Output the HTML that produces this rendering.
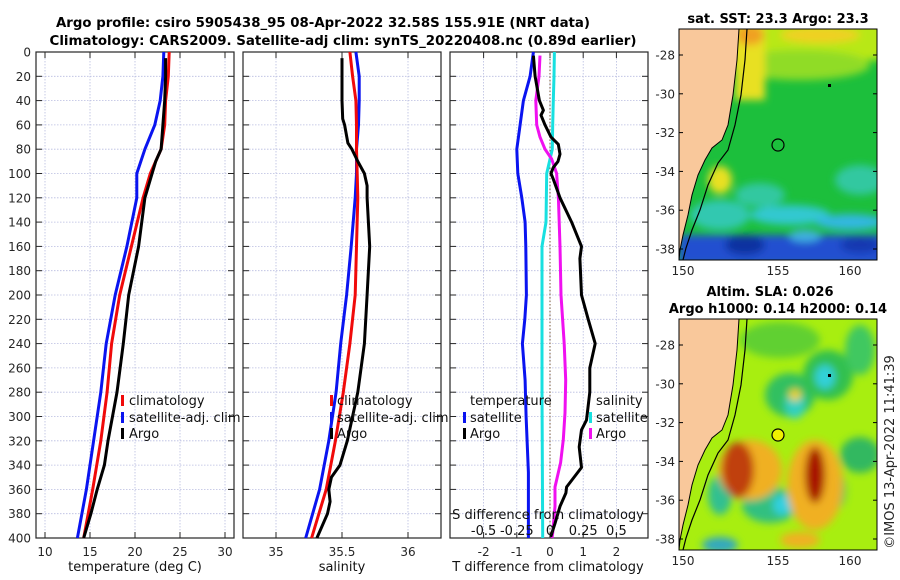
<!DOCTYPE html>
<html><head><meta charset="utf-8">
<style>
html,body{margin:0;padding:0;background:#fff;}
svg{display:block;font-family:"DejaVu Sans","Liberation Sans",sans-serif;}
</style></head>
<body>
<svg id="chart" width="900" height="580" viewBox="0 0 900 580" xmlns="http://www.w3.org/2000/svg">
<defs>
  <clipPath id="clipM1"><rect x="679" y="29" width="198" height="231"/></clipPath>
  <clipPath id="clipM2"><rect x="679" y="319" width="198" height="231"/></clipPath>
  <filter id="blur1" x="-20%" y="-20%" width="140%" height="140%"><feGaussianBlur stdDeviation="4"/></filter>
  <filter id="blur2" x="-20%" y="-20%" width="140%" height="140%"><feGaussianBlur stdDeviation="4"/></filter>
</defs>
<text x="323" y="27" text-anchor="middle" font-weight="bold" font-size="13" textLength="534" lengthAdjust="spacingAndGlyphs">Argo profile: csiro 5905438_95 08-Apr-2022 32.58S 155.91E (NRT data)</text>
<text x="343" y="45" text-anchor="middle" font-weight="bold" font-size="13" textLength="587" lengthAdjust="spacingAndGlyphs">Climatology: CARS2009. Satellite-adj clim: synTS_20220408.nc (0.89d earlier)</text>
<g id="panels"></g>

<!-- Map 1: SST -->
<g>
  <text x="778" y="23" text-anchor="middle" font-weight="bold" font-size="13">sat. SST: 23.3 Argo: 23.3</text>
  <g clip-path="url(#clipM1)">
    <rect x="679" y="29" width="198" height="231" fill="#1cbf3c"/>
    <g filter="url(#blur1)">
      <rect x="679" y="20" width="210" height="40" fill="#b8e818"/>
      <ellipse cx="800" cy="65" rx="70" ry="15" fill="#90dc28"/>
      <rect x="735" y="20" width="30" height="80" fill="#e8e020"/>
      <ellipse cx="750" cy="35" rx="14" ry="10" fill="#f0a020"/>
      <ellipse cx="820" cy="35" rx="40" ry="8" fill="#f0d020"/>
      <ellipse cx="720" cy="180" rx="12" ry="14" fill="#e8e020"/>
      <ellipse cx="860" cy="180" rx="25" ry="15" fill="#30c8a0"/>
      <ellipse cx="760" cy="195" rx="25" ry="12" fill="#30c8a0"/>
      <ellipse cx="720" cy="215" rx="30" ry="15" fill="#30c8b0"/>
      <ellipse cx="790" cy="215" rx="40" ry="10" fill="#30c8d0"/>
      <ellipse cx="850" cy="222" rx="35" ry="8" fill="#30b8e0"/>
      <rect x="679" y="235" width="210" height="30" fill="#2050d0"/>
      <ellipse cx="745" cy="245" rx="20" ry="10" fill="#1030a0"/>
      <ellipse cx="860" cy="245" rx="20" ry="8" fill="#1838b0"/>
      <ellipse cx="805" cy="236" rx="16" ry="6" fill="#40b0e0"/>
    </g>
    <path d="M679,29 L739,29 L737,60 L733,95 L728,125 L722,140 L712,148 L705,160 L698,175 L692,195 L688,215 L683,235 L680,250 L679,260 Z" fill="#f9c89b" stroke="#000" stroke-width="1"/>
    <path d="M747,29 L745,60 L741,95 L735,125 L728,150 L718,163 L708,185 L700,210 L692,230 L686,248 L683,260" fill="none" stroke="#000" stroke-width="1.2"/>
    <circle cx="778" cy="145" r="6" fill="none" stroke="#000" stroke-width="1.2"/>
    <rect x="828" y="84" width="3" height="3" fill="#000"/>
  </g>
  <rect x="679" y="29" width="198" height="231" fill="none" stroke="#000" stroke-width="1"/>
</g>

<!-- Map 2: SLA -->
<g>
  <text x="770" y="296" text-anchor="middle" font-weight="bold" font-size="13">Altim. SLA: 0.026</text>
  <text x="778" y="313" text-anchor="middle" font-weight="bold" font-size="13">Argo h1000: 0.14 h2000: 0.14</text>
  <g clip-path="url(#clipM2)">
    <rect x="679" y="319" width="198" height="231" fill="#a8ee10"/>
    <g filter="url(#blur2)">
      <ellipse cx="780" cy="340" rx="40" ry="18" fill="#60d030"/>
      <ellipse cx="790" cy="395" rx="25" ry="22" fill="#30c060"/>
      <ellipse cx="795" cy="405" rx="10" ry="14" fill="#30d0c0"/>
      <ellipse cx="828" cy="375" rx="25" ry="25" fill="#30c050"/>
      <ellipse cx="825" cy="377" rx="10" ry="12" fill="#30d0d8"/>
      <ellipse cx="860" cy="350" rx="15" ry="25" fill="#40c860"/>
      <ellipse cx="860" cy="455" rx="20" ry="18" fill="#30b860"/>
      <ellipse cx="838" cy="490" rx="8" ry="18" fill="#30c070"/>
      <ellipse cx="770" cy="505" rx="28" ry="18" fill="#30c080"/>
      <ellipse cx="783" cy="505" rx="10" ry="10" fill="#30d0e0"/>
      <ellipse cx="720" cy="495" rx="12" ry="20" fill="#30c090"/>
      <ellipse cx="750" cy="470" rx="32" ry="30" fill="#f0b020"/>
      <ellipse cx="738" cy="470" rx="16" ry="28" fill="#c04010"/>
      <ellipse cx="815" cy="485" rx="28" ry="45" fill="#f0b020"/>
      <ellipse cx="815" cy="475" rx="10" ry="28" fill="#a81800"/>
      <ellipse cx="795" cy="395" rx="6" ry="6" fill="#f0d020"/>
      <ellipse cx="800" cy="540" rx="20" ry="8" fill="#f0b020"/>
      <ellipse cx="720" cy="545" rx="18" ry="8" fill="#30a8c0"/>
    </g>
    <path d="M679,319 L739,319 L737,350 L733,385 L728,415 L722,430 L712,438 L705,450 L698,465 L692,485 L688,505 L683,525 L680,540 L679,550 Z" fill="#f9c89b" stroke="#000" stroke-width="1"/>
    <path d="M747,319 L745,350 L741,385 L735,415 L728,440 L718,453 L708,475 L700,500 L692,520 L686,538 L683,550" fill="none" stroke="#000" stroke-width="1.2"/>
    <circle cx="778" cy="435" r="6" fill="#f0f000" stroke="#000" stroke-width="1.2"/>
    <rect x="828" y="374" width="3" height="3" fill="#000"/>
  </g>
  <rect x="679" y="319" width="198" height="231" fill="none" stroke="#000" stroke-width="1"/>
</g>
<text transform="translate(894,452) rotate(-90)" text-anchor="middle" font-size="13" fill="#262626">©IMOS 13-Apr-2022 11:41:39</text>
<g id="maptick"></g>
</svg>
<script>
// ---- data ----
const depthTicks = [0,20,40,60,80,100,120,140,160,180,200,220,240,260,280,300,320,340,360,380,400];
const tempTicks = [10,15,20,25,30];
const salTicks = [35,35.5,36];
const salTickLabels = ["35","35.5","36"];
const tdiffTicks = [-2,-1,0,1,2];
const sdiffTicks = [-0.5,-0.25,0,0.25,0.5];
const sdiffTickLabels = ["-0.5","-0.25","0","0.25","0.5"];

const tClimDepth = [0,20,40,60,80,100,120,160,200,240,280,320,360,400];
const tClimVal   = [23.8,23.7,23.4,23.3,22.9,21.7,20.9,19.6,18.3,17.4,16.9,16.2,15.3,14.3];
const tSatDepth  = [0,20,40,60,80,100,120,160,200,240,280,320,360,400];
const tSatVal    = [23.2,23.1,22.8,22.2,21.1,20.2,20.2,19.1,17.8,16.8,16.2,15.4,14.6,13.6];
const tArgoDepth = [5,20,40,60,80,90,100,120,160,200,240,280,320,340,360,380,400];
const tArgoVal   = [23.4,23.4,23.3,23.1,22.9,22.3,21.9,21.1,20.4,19.3,18.7,18.0,17.0,16.6,15.8,15.1,14.3];

const sClimDepth = [0,20,40,60,80,100,120,160,200,240,280,320,360,400];
const sClimVal   = [35.56,35.58,35.605,35.61,35.61,35.615,35.62,35.61,35.60,35.56,35.51,35.45,35.38,35.27];
const sSatDepth  = [0,20,40,60,80,100,120,160,200,240,280,320,360,400];
const sSatVal    = [35.605,35.63,35.63,35.625,35.61,35.61,35.60,35.57,35.535,35.49,35.455,35.40,35.33,35.225];
const sArgoDepth = [5,20,40,55,60,75,80,90,100,110,120,160,200,240,280,320,340,350,360,370,380,400];
const sArgoVal   = [35.50,35.50,35.50,35.505,35.52,35.545,35.575,35.62,35.67,35.69,35.69,35.71,35.69,35.67,35.62,35.54,35.485,35.42,35.40,35.41,35.39,35.31];

const dtSatDepth = [0,20,40,60,80,100,120,140,160,200,220,240,270,300,346,400];
const dtSatVal   = [-0.5,-0.6,-0.8,-0.9,-1.0,-0.97,-0.85,-0.75,-0.73,-0.71,-0.76,-0.83,-0.75,-0.72,-0.65,-0.65];
const dtArgoDepth = [3,20,40,48,52,60,70,76,84,90,95,100,104,120,140,160,170,200,220,240,260,280,303,311,325,342,358,363,374,388,399];
const dtArgoVal   = [-0.5,-0.45,-0.32,-0.2,-0.27,-0.15,0.03,0.25,0.3,0.24,0.1,0.03,0.09,0.3,0.65,0.95,0.9,0.95,1.15,1.36,1.2,1.2,1.1,0.95,0.88,0.95,0.5,0.48,0.3,0.15,0.02];
const dsSatDepth = [0,20,40,60,80,100,140,160,200,280,400];
const dsSatVal   = [0.033,0.03,0.025,0.02,0.017,-0.025,-0.03,-0.06,-0.06,-0.06,-0.055];
const dsArgoDepth = [3,20,40,60,70,80,88,100,120,160,200,240,270,297,319,338,358,374,396,400];
const dsArgoVal   = [-0.075,-0.083,-0.107,-0.1,-0.075,-0.038,0.012,0.05,0.063,0.075,0.083,0.107,0.118,0.113,0.1,0.08,0.038,0.038,0.02,0.015];

// ---- layout ----
const NS = "http://www.w3.org/2000/svg";
const yTop = 52, yBot = 538;
const yScale = d => yTop + d/400*(yBot-yTop);
const panels = document.getElementById('panels');
function mk(tag, attrs, parent){ const e=document.createElementNS(NS,tag); for(const k in attrs) e.setAttribute(k,attrs[k]); (parent||panels).appendChild(e); return e; }

function drawAxes(x0, x1, xs, ticks, labels, name, showY){
  const g = mk('g',{});
  
  
  ticks.forEach(t=>{ mk('line',{x1:xs(t),x2:xs(t),y1:yTop,y2:yBot,stroke:'#b8bce0','stroke-width':0.8,'stroke-dasharray':'1.5,1.5'},g); });
  depthTicks.forEach(d=>{ const y=yScale(d);
    mk('line',{x1:x0,x2:x1,y1:y,y2:y,stroke:'#b8bce0','stroke-width':0.8,'stroke-dasharray':'1.5,1.5'},g);
    mk('line',{x1:x0,x2:x0+6,y1:y,y2:y,stroke:'#262626','stroke-width':1},g);
    mk('line',{x1:x1-6,x2:x1,y1:y,y2:y,stroke:'#262626','stroke-width':1},g);
    if(showY){ const t=mk('text',{x:31,y:y+4.5,'text-anchor':'end','font-size':12,fill:'#262626'},g); t.textContent=d;
        }
  });
  ticks.forEach((t,i)=>{ const x=xs(t);
    mk('line',{x1:x,x2:x,y1:yBot,y2:yBot-6,stroke:'#262626'},g);
    mk('line',{x1:x,x2:x,y1:yTop,y2:yTop+6,stroke:'#262626'},g);
    const tx=mk('text',{x:x,y:556,'text-anchor':'middle','font-size':12,fill:'#262626'},g); tx.textContent=labels[i];
     
  });
  mk('rect',{x:x0,y:yTop,width:x1-x0,height:yBot-yTop,fill:'none',stroke:'#262626','stroke-width':1.2},g);
  return g;
}
function line(xs, depths, vals, color, name, w){
  const pts = depths.map((d,i)=>xs(vals[i]).toFixed(1)+','+yScale(d).toFixed(1)).join(' ');
  const p = mk('polyline',{points:pts,fill:'none',stroke:color,'stroke-width':w||3,'stroke-linejoin':'round'});
  
  
}
function txt(x,y,s,name,anchor,size){ const t=mk('text',{x:x,y:y,'font-size':size||13,fill:'#111','text-anchor':anchor||'start'}); t.textContent=s;
    return t; }
function marker(x,y,color,name){ const r=mk('rect',{x:x,y:y-6,width:3,height:11,fill:color});
    }

// panel 1 temperature
const xT = v => 45 + (v-10)*9.0;
drawAxes(36,234,xT,tempTicks,tempTicks.map(String),'temperature',true);
line(xT,tSatDepth,tSatVal,'#0a14f0','temp-satellite-line');
line(xT,tClimDepth,tClimVal,'#f00a0a','temp-climatology-line');
line(xT,tArgoDepth,tArgoVal,'#000','temp-argo-line');
txt(135,571,'temperature (deg C)','x-axis-title-temperature','middle');
marker(121,401,'#f00a0a','legend-marker-climatology'); txt(129,405,'climatology','legend-climatology');
marker(121,418,'#0a14f0','legend-marker-satellite'); txt(129,422,'satellite-adj. clim','legend-satellite-adj');
marker(121,434,'#000','legend-marker-argo'); txt(129,438,'Argo','legend-argo');

// panel 2 salinity
const xS = v => 342 + (v-35.5)*132;
drawAxes(243,441,xS,salTicks,salTickLabels,'salinity',false);
line(xS,sSatDepth,sSatVal,'#0a14f0','sal-satellite-line');
line(xS,sClimDepth,sClimVal,'#f00a0a','sal-climatology-line');
line(xS,sArgoDepth,sArgoVal,'#000','sal-argo-line');
txt(342,571,'salinity','x-axis-title-salinity','middle');
marker(330,401,'#f00a0a','legend-marker-climatology-2'); txt(337,405,'climatology','legend-climatology-2');
marker(330,418,'#0a14f0','legend-marker-satellite-2'); txt(337,422,'satellite-adj. clim','legend-satellite-adj-2');
marker(330,434,'#000','legend-marker-argo-2'); txt(337,438,'Argo','legend-argo-2');

// panel 3 differences
const xDT = v => 550 + v*33.2;
const xDS = v => 550 + v*132.8;
drawAxes(450,648,xDT,tdiffTicks,tdiffTicks.map(String),'t-difference',false);
const z = mk('line',{x1:xDT(0),x2:xDT(0),y1:yTop,y2:yBot,stroke:'#7a5a3a','stroke-width':1,'stroke-dasharray':'1.5,2'});
 
line(xDT,dtSatDepth,dtSatVal,'#0a14f0','tdiff-satellite-line');
line(xDS,dsSatDepth,dsSatVal,'#18e0e0','sdiff-satellite-line');
line(xDS,dsArgoDepth,dsArgoVal,'#f010f0','sdiff-argo-line');
line(xDT,dtArgoDepth,dtArgoVal,'#000','tdiff-argo-line');
txt(548,571,'T difference from climatology','x-axis-title-t-difference','middle');
txt(548,519,'S difference from climatology','s-difference-title','middle');
sdiffTicks.forEach((v,i)=>{ txt(xDS(v),535,sdiffTickLabels[i],'s-difference-tick-label','middle'); });
txt(470,405,'temperature','legend-temperature-header');
marker(463,418,'#0a14f0','legend-marker-tdiff-satellite'); txt(470,422,'satellite','legend-tdiff-satellite');
marker(463,434,'#000','legend-marker-tdiff-argo'); txt(470,438,'Argo','legend-tdiff-argo');
txt(596,405,'salinity','legend-salinity-header');
marker(589,418,'#18e0e0','legend-marker-sdiff-satellite'); txt(596,422,'satellite','legend-sdiff-satellite');
marker(589,434,'#f010f0','legend-marker-sdiff-argo'); txt(596,438,'Argo','legend-sdiff-argo');

// map ticks
const mt = document.getElementById('maptick');
const latTicks = [-28,-30,-32,-34,-36,-38];
const lonTicks = [150,155,160];
const lonPos = [683,778,850];
[[0,275],[290,565]].forEach(([off,ly])=>{
  latTicks.forEach(l=>{ const y = 55 + (-28-l)*19.4 + off;
    const t=mk('text',{x:675,y:y+4.5,'text-anchor':'end','font-size':12,fill:'#262626'},mt); t.textContent=l;
     
    mk('line',{x1:679,x2:683,y1:y,y2:y,stroke:'#000'},mt);
    mk('line',{x1:873,x2:877,y1:y,y2:y,stroke:'#000'},mt);
  });
  lonTicks.forEach((l,i)=>{
    const t=mk('text',{x:lonPos[i],y:ly,'text-anchor':'middle','font-size':12,fill:'#262626'},mt); t.textContent=l;
     
  });
});
</script>
</body></html>
